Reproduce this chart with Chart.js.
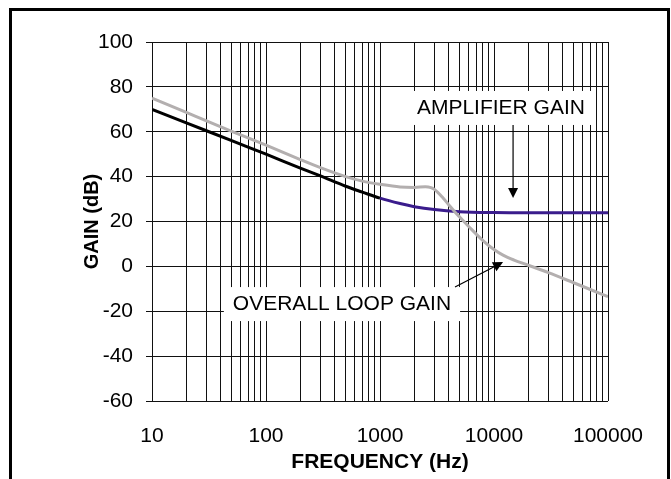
<!DOCTYPE html>
<html>
<head>
<meta charset="utf-8">
<title>Gain vs Frequency</title>
<script src="https://cdn.jsdelivr.net/npm/chart.js@4.4.1/dist/chart.umd.min.js"></script>
<style>
    html, body { margin: 0; padding: 0; background: #fff; }
    #wrap { position: relative; width: 671px; height: 479px; overflow: hidden; }
    #gainChart { position: absolute; left: 0; top: 0; }
    /* khung đen bao quanh, cạnh dưới bị cắt */
    #frame {
        position: absolute; left: 9px; top: 8px; width: 661px; height: 540px;
        border: 3px solid #000; box-sizing: border-box; pointer-events: none;
    }
</style>
</head>
<body>
<div id="wrap">
    <canvas id="gainChart" width="671" height="479"></canvas>
    <div id="frame"></div>
</div>
<script>
(function () {
    'use strict';

    // ===== DATA =====
    const decadeLabels = [10, 100, 1000, 10000, 100000];
    const gridMultipliers = [1, 2, 3, 4, 5, 6, 7, 8, 9];
    const gainTicks = [-60, -40, -20, 0, 20, 40, 60, 80, 100];

    // amplifier gain (black -> purple)
    const ampFreq = [10, 20, 50, 100, 200, 300, 500, 700, 1000, 1500, 2000, 3000, 5000, 10000, 20000, 50000, 100000];
    const ampGain = [70, 64, 56, 50, 43.8, 40.3, 35.7, 33.1, 30.4, 28, 26.6, 25.3, 24.4, 24, 23.9, 23.9, 23.9];

    // overall loop gain (grey)
    const loopFreq = [10, 20, 50, 100, 200, 300, 500, 700, 1000, 1500, 2000, 2500, 2800, 3000, 3500, 4000, 4500, 5000, 6000, 8000, 10000, 12000, 15000, 20000, 30000, 50000, 70000, 100000];
    const loopGain = [75, 68.6, 60.2, 54, 47.6, 44, 40, 38, 36.6, 35.4, 35.2, 35.5, 35.1, 34.3, 31, 27.5, 24.5, 22, 17.8, 11.5, 7.5, 5, 2.8, 0.5, -2.8, -7.3, -10.3, -13.5];

    // annotations (anchored in data coordinates)
    const noteText = ['AMPLIFIER GAIN', 'OVERALL LOOP GAIN'];
    const noteFreq = [11500, 464];
    const noteGain = [70.6, -16.8];
    const arrowFromFreq = [14700, 4550];
    const arrowFromGain = [63, -9.2];
    const arrowToFreq = [14700, 12000];
    const arrowToGain = [30.5, 1.9];

    const FONT = 'Arial, "Liberation Sans", sans-serif';
    const BLACK = '#000000';
    const PURPLE = '#3a1c8c';
    const GREY = '#b3afaf';

    function toPoints(xs, ys) {
        return xs.map(function (v, i) { return { x: v, y: ys[i] }; });
    }

    // tất cả vạch lưới dọc 10..100000
    const gridValues = [];
    decadeLabels.forEach(function (d, i) {
        if (i === decadeLabels.length - 1) {
            gridValues.push(d);
            return;
        }
        gridMultipliers.forEach(function (m) { gridValues.push(d * m); });
    });

    const notesPlugin = {
        id: 'gainNotes',
        beforeDatasetsDraw: function (chart) {
            const ctx = chart.ctx;
            const x = chart.scales.x;
            const y = chart.scales.y;
            ctx.save();
            ctx.font = '21px ' + FONT;
            ctx.textAlign = 'center';
            ctx.textBaseline = 'middle';
            noteText.forEach(function (txt, i) {
                const cx = x.getPixelForValue(noteFreq[i]);
                const cy = y.getPixelForValue(noteGain[i]);
                const w = ctx.measureText(txt).width;
                ctx.fillStyle = '#fff';
                ctx.fillRect(cx - w / 2 - 9, cy - 17, w + 18, 34);
                ctx.fillStyle = '#000';
                ctx.fillText(txt, cx, cy);
            });
            ctx.restore();
        },
        afterDatasetsDraw: function (chart) {
            const ctx = chart.ctx;
            const x = chart.scales.x;
            const y = chart.scales.y;
            ctx.save();
            ctx.strokeStyle = '#000';
            ctx.fillStyle = '#000';
            ctx.lineWidth = 1.2;
            arrowFromFreq.forEach(function (f, i) {
                const x0 = x.getPixelForValue(f);
                const y0 = y.getPixelForValue(arrowFromGain[i]);
                const x1 = x.getPixelForValue(arrowToFreq[i]);
                const y1 = y.getPixelForValue(arrowToGain[i]);
                const ang = Math.atan2(y1 - y0, x1 - x0);
                const len = 10;
                const half = 5;
                const bx = x1 - len * Math.cos(ang);
                const by = y1 - len * Math.sin(ang);
                ctx.beginPath();
                ctx.moveTo(x0, y0);
                ctx.lineTo(bx, by);
                ctx.stroke();
                ctx.beginPath();
                ctx.moveTo(x1, y1);
                ctx.lineTo(bx + half * Math.sin(ang), by - half * Math.cos(ang));
                ctx.lineTo(bx - half * Math.sin(ang), by + half * Math.cos(ang));
                ctx.closePath();
                ctx.fill();
            });
            ctx.restore();
        }
    };

    Chart.defaults.font.family = FONT;
    Chart.defaults.color = '#000';

    new Chart(document.getElementById('gainChart').getContext('2d'), {
        type: 'line',
        data: {
            datasets: [{
                label: 'OVERALL LOOP GAIN',
                data: toPoints(loopFreq, loopGain),
                borderColor: GREY,
                borderWidth: 3,
                pointRadius: 0,
                cubicInterpolationMode: 'monotone',
                order: 0
            }, {
                label: 'AMPLIFIER GAIN',
                data: toPoints(ampFreq, ampGain),
                borderColor: BLACK,
                borderWidth: 3,
                pointRadius: 0,
                cubicInterpolationMode: 'monotone',
                segment: {
                    borderColor: function (c) { return c.p0.parsed.x < 1000 ? BLACK : PURPLE; }
                },
                order: 1
            }]
        },
        options: {
            responsive: false,
            animation: false,
            devicePixelRatio: 1,
            layout: { padding: { left: 0, top: 42, right: 63, bottom: 0 } },
            plugins: {
                legend: { display: false },
                tooltip: { enabled: false }
            },
            scales: {
                x: {
                    type: 'logarithmic',
                    min: 10,
                    max: 100000,
                    afterBuildTicks: function (axis) {
                        axis.ticks = gridValues.map(function (v) { return { value: v }; });
                    },
                    afterFit: function (axis) { axis.height = 78; },
                    ticks: {
                        autoSkip: false,
                        maxRotation: 0,
                        padding: 23,
                        font: { size: 21 },
                        callback: function (v) {
                            return decadeLabels.indexOf(v) >= 0 ? String(v) : '';
                        }
                    },
                    grid: { color: '#111', lineWidth: 1, drawTicks: false },
                    border: { display: false },
                    title: {
                        display: true,
                        text: 'FREQUENCY (Hz)',
                        font: { size: 21, weight: 'bold' },
                        padding: { top: 0, bottom: 4 }
                    }
                },
                y: {
                    min: -60,
                    max: 100,
                    afterBuildTicks: function (axis) {
                        axis.ticks = gainTicks.map(function (v) { return { value: v }; });
                    },
                    afterFit: function (axis) { axis.width = 152; },
                    ticks: {
                        padding: 13,
                        font: { size: 21 }
                    },
                    grid: { color: '#111', lineWidth: 1, tickLength: 6 },
                    border: { display: false },
                    title: {
                        display: true,
                        text: 'GAIN (dB)',
                        font: { size: 20, weight: 'bold' },
                        padding: { top: 80, bottom: 0 }
                    }
                }
            }
        },
        plugins: [notesPlugin]
    });
})();
</script>
</body>
</html>
